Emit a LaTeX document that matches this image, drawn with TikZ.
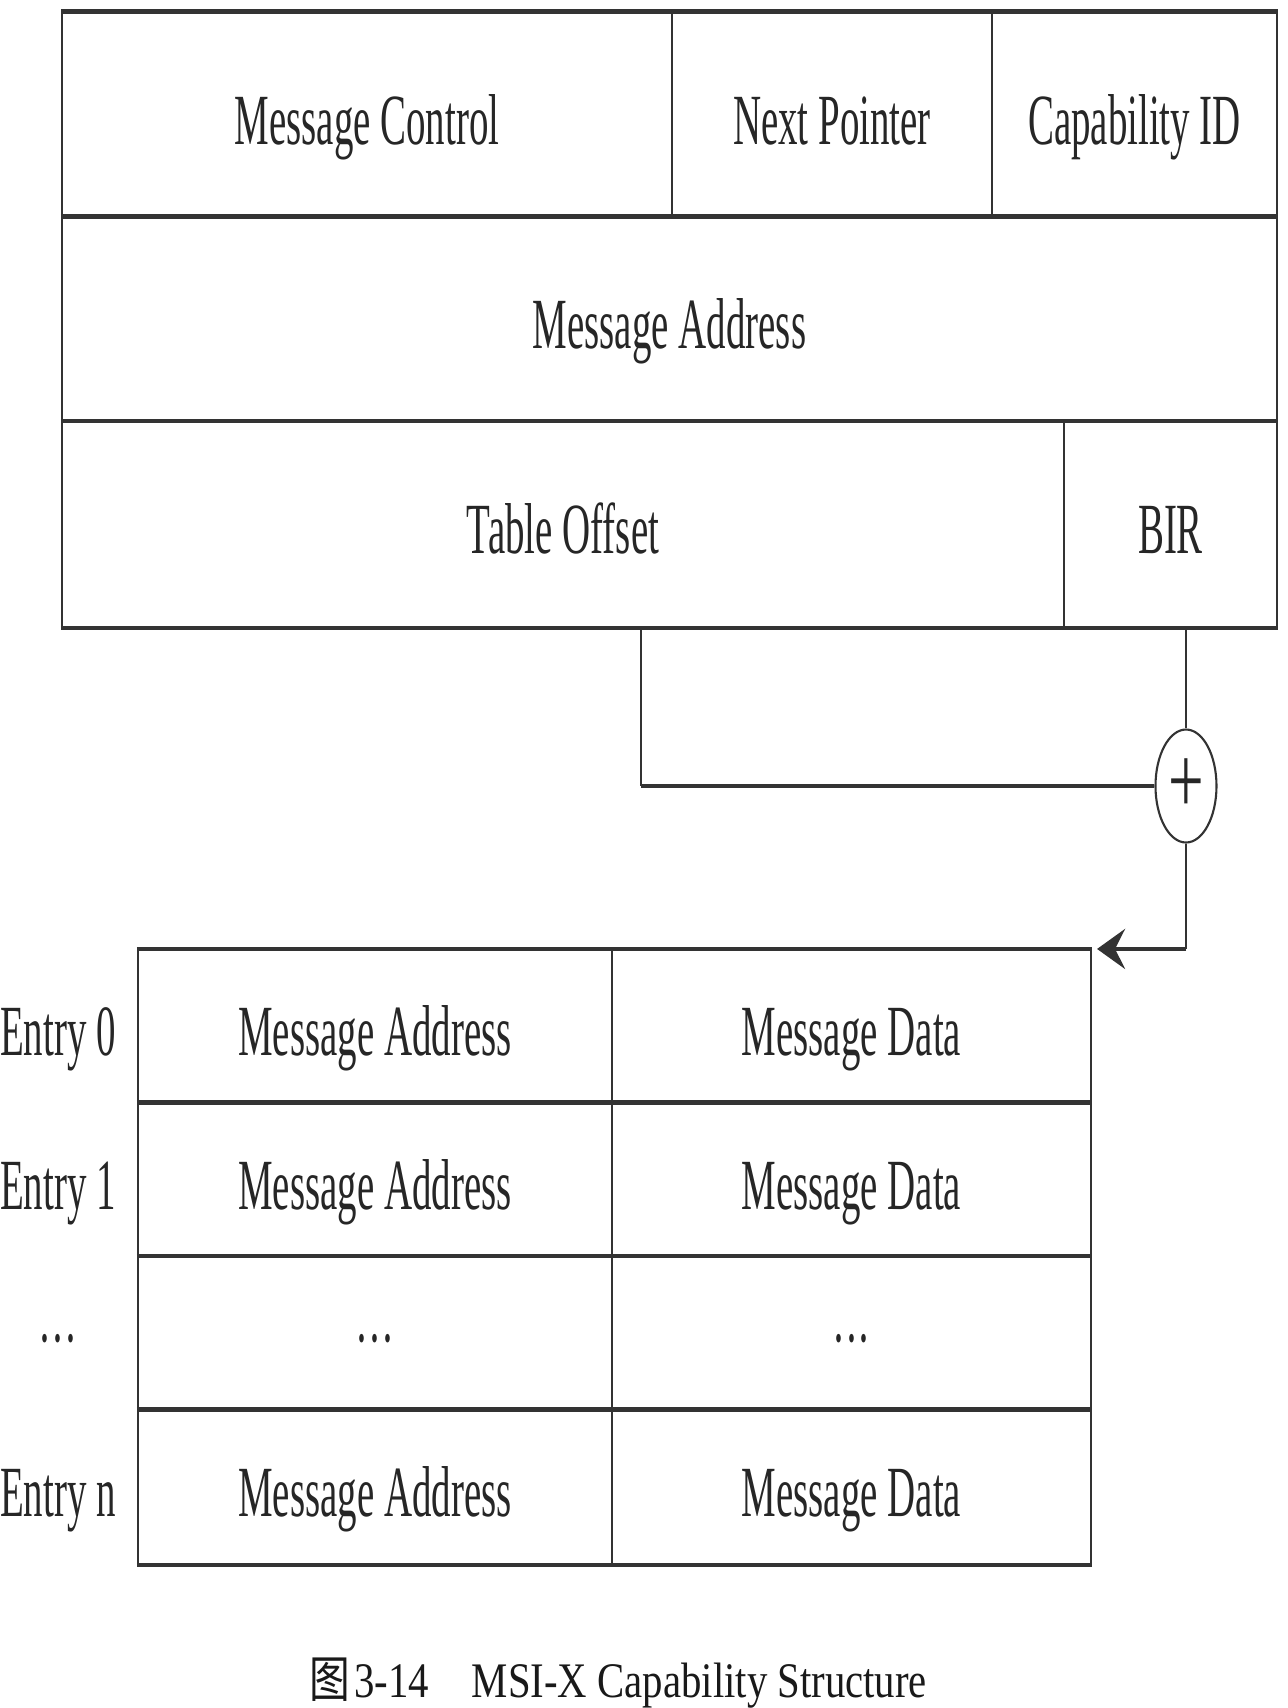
\documentclass[tikz,border=0pt]{standalone}
\usepackage{fontspec}
\setmainfont{Liberation Serif}
\newfontfamily\cjk{Noto Sans CJK SC}
\usetikzlibrary{shapes.geometric,arrows.meta}
\begin{document}
\begin{tikzpicture}
\def\rowh{2.05cm}
\def\enth{1.535cm}
\def\sq#1{\scalebox{0.54}[1]{#1}}
\tikzset{base/.style={inner sep=0pt,text height=16.5pt,text depth=0pt,
font=\fontsize{20.5}{24}\selectfont,text=black!85},
cell/.style={base,draw=black!80,line width=0.6pt},
lbl/.style={base},
rule/.style={draw=black!80,line width=1.3pt},
wire/.style={draw=black!80,line width=0.6pt}}
\useasboundingbox (0,0) rectangle (12.88,-17.08);
% capability structure
\node[cell,minimum width=6.10cm,minimum height=\rowh] at (3.67,-1.15) (MC) {\sq{Message Control}};
\node[cell,minimum width=3.20cm,minimum height=\rowh] at (8.32,-1.15) (NP) {\sq{Next Pointer}};
\node[cell,minimum width=2.85cm,minimum height=\rowh] at (11.345,-1.15) (CID) {\sq{Capability ID}};
\node[cell,minimum width=12.15cm,minimum height=\rowh] at (6.695,-3.195) (MA) {\sq{Message Address}};
\node[cell,minimum width=10.02cm,minimum height=\rowh] at (5.63,-5.245) (TO) {\sq{Table Offset}};
\node[cell,minimum width=2.13cm,minimum height=\rowh] at (11.705,-5.245) (BIR) {\sq{BIR}};
\path[rule] (MC.north west) -- (CID.north east);
\path[rule] (MA.north west) -- (MA.north east);
\path[rule] (TO.north west) -- (BIR.north east);
\path[rule] (TO.south west) -- (BIR.south east);
% table
\foreach \i/\y/\t/\a/\d in {0/10.2675/Entry 0/Message Address/Message Data,
  1/11.8025/Entry 1/Message Address/Message Data,
  2/13.3375/···/···/···,
  3/14.8725/Entry n/Message Address/Message Data}{
  \node[lbl] at (0.58,-\y) (E\i) {\sq{\t}};
  \node[cell,minimum width=4.74cm,minimum height=\enth] at (3.75,-\y) (A\i) {\sq{\a}};
  \node[cell,minimum width=4.79cm,minimum height=\enth] at (8.515,-\y) (D\i) {\sq{\d}};
  \path[rule] (A\i.north west) -- (D\i.north east);
}
\path[rule] (A3.south west) -- (D3.south east);
% address calculation
\node[draw=black!80,line width=0.6pt,ellipse,minimum width=0.61cm,minimum height=1.13cm,
inner sep=0pt,font=\fontsize{24}{28}\selectfont,text=black!85] at (11.86,-7.86) (SUM) {\scalebox{0.75}[1.15]{+}};
\coordinate (bend) at (6.41,-7.86);
\coordinate (tip) at ([xshift=0.5mm]D0.north east);
\path[wire] (bend |- TO.south) -- (bend);
\path[rule,line width=1.1pt] (bend) -- (SUM.west);
\path[wire] (SUM |- BIR.south) -- (SUM.north);
\path[wire] (SUM.south) -- (SUM.south |- tip);
\path[rule,line width=1.1pt,-{Stealth[length=2.8mm,width=4mm,inset=1mm]}] (SUM.south |- tip) -- (tip);
\node[font=\fontsize{11.6}{14}\selectfont,text=black!90,anchor=base] at (6.185,-16.97) (CAP)
{\scalebox{1}[1.22]{{\cjk 图}\kern1pt 3-14\hspace{1.05em}MSI-X Capability Structure}};
\end{tikzpicture}
\end{document}
